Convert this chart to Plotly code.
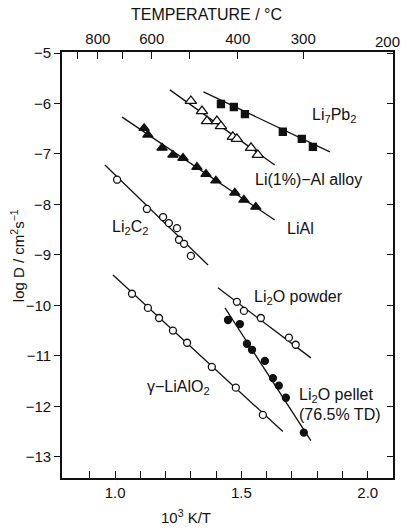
import plotly.graph_objects as go

# ---- data (10^3 K/T, log D) ----
li7pb2_x = [1.419, 1.470, 1.514, 1.664, 1.739, 1.783]
li7pb2_y = [-6.01, -6.07, -6.21, -6.56, -6.70, -6.86]
li7pb2_fit_x = [1.35, 1.85]
li7pb2_fit_y = [-5.77, -6.96]

lial1_x = [1.300, 1.344, 1.364, 1.403, 1.419, 1.466, 1.482, 1.538, 1.565]
lial1_y = [-5.95, -6.15, -6.35, -6.35, -6.45, -6.66, -6.70, -6.88, -7.02]
lial1_fit_x = [1.217, 1.632]
lial1_fit_y = [-5.73, -7.22]

lial_x = [1.115, 1.130, 1.186, 1.229, 1.269, 1.324, 1.360, 1.399, 1.474, 1.510, 1.557]
lial_y = [-6.49, -6.62, -6.88, -7.02, -7.08, -7.26, -7.40, -7.53, -7.77, -7.91, -8.05]
lial_fit_x = [1.028, 1.632]
lial_fit_y = [-6.27, -8.31]

li2c2_x = [1.008, 1.126, 1.190, 1.213, 1.245, 1.253, 1.273, 1.300]
li2c2_y = [-7.51, -8.09, -8.25, -8.37, -8.47, -8.70, -8.78, -9.02]
li2c2_fit_x = [0.960, 1.368]
li2c2_fit_y = [-7.22, -9.20]

lialo2_x = [1.067, 1.130, 1.174, 1.229, 1.285, 1.383, 1.478, 1.585]
lialo2_y = [-9.77, -10.05, -10.25, -10.50, -10.74, -11.22, -11.63, -12.17]
lialo2_fit_x = [0.992, 1.664]
lialo2_fit_y = [-9.40, -12.50]

li2o_pow_x = [1.482, 1.510, 1.577, 1.688, 1.715]
li2o_pow_y = [-9.93, -10.11, -10.25, -10.64, -10.78]
li2o_pow_fit_x = [1.407, 1.775]
li2o_pow_fit_y = [-9.65, -11.04]

li2o_pel_x = [1.447, 1.494, 1.522, 1.542, 1.593, 1.625, 1.648, 1.676, 1.747]
li2o_pel_y = [-10.29, -10.37, -10.76, -10.88, -11.10, -11.44, -11.59, -11.83, -12.52]
li2o_pel_fit_x = [1.435, 1.775]
li2o_pel_fit_y = [-10.05, -12.68]

bottom_major = [1.0, 1.5, 2.0]
bottom_minor = [0.9, 1.0, 1.1, 1.2, 1.3, 1.4, 1.5, 1.6, 1.7, 1.8, 1.9, 2.0]
temp_labeled_c = [800, 600, 400, 300]
temp_unlabeled_c = [900, 700, 500]
y_ticks = [-13, -12, -11, -10, -9, -8, -7, -6, -5]

FONT = "Liberation Sans"
INK = "#111111"

fig = go.Figure()

def fit(x, y):
    fig.add_trace(go.Scatter(x=x, y=y, mode="lines", line=dict(color=INK, width=1.3),
                             showlegend=False, hoverinfo="skip"))

def pts(x, y, symbol, size, fill):
    fig.add_trace(go.Scatter(x=x, y=y, mode="markers", showlegend=False,
                             marker=dict(symbol=symbol, size=size, color=fill,
                                         line=dict(color=INK, width=1.3))))

fit(li7pb2_fit_x, li7pb2_fit_y); pts(li7pb2_x, li7pb2_y, "square", 7, INK)
fit(lial1_fit_x, lial1_fit_y); pts(lial1_x, lial1_y, "triangle-up", 10, "white")
fit(lial_fit_x, lial_fit_y); pts(lial_x, lial_y, "triangle-up", 9, INK)
fit(li2c2_fit_x, li2c2_fit_y); pts(li2c2_x, li2c2_y, "circle", 7, "white")
fit(lialo2_fit_x, lialo2_fit_y); pts(lialo2_x, lialo2_y, "circle", 7, "white")
fit(li2o_pow_fit_x, li2o_pow_fit_y); pts(li2o_pow_x, li2o_pow_y, "circle", 7, "white")
fit(li2o_pel_fit_x, li2o_pel_fit_y); pts(li2o_pel_x, li2o_pel_y, "circle", 7, INK)

# invisible traces to activate top/right axes
fig.add_trace(go.Scatter(x=[1.5], y=[-9], xaxis="x2", yaxis="y2", mode="markers",
                         marker=dict(opacity=0), showlegend=False, hoverinfo="skip"))
fig.add_trace(go.Scatter(x=[1.5], y=[-9], xaxis="x3", yaxis="y2", mode="markers",
                         marker=dict(opacity=0), showlegend=False, hoverinfo="skip"))

LBL = 16
labels = [
    (1.771, -6.23, "Li<sub>7</sub>Pb<sub>2</sub>"),
    (1.545, -7.51, "Li(1%)−Al alloy"),
    (1.672, -8.47, "LiAl"),
    (0.980, -8.45, "Li<sub>2</sub>C<sub>2</sub>"),
    (1.542, -9.85, "Li<sub>2</sub>O powder"),
    (1.719, -11.79, "Li<sub>2</sub>O pellet"),
    (1.719, -12.17, "(76.5% TD)"),
    (1.119, -11.63, "γ−LiAlO<sub>2</sub>"),
]
for x, y, t in labels:
    fig.add_annotation(x=x, y=y, text=t, showarrow=False, xanchor="left", yanchor="middle",
                       font=dict(family=FONT, size=LBL, color=INK))

# axis titles
fig.add_annotation(xref="paper", yref="paper", x=0.375, y=-0.0915, text="10<sup>3</sup> K/T",
                   showarrow=False, xanchor="center", yanchor="middle",
                   font=dict(family=FONT, size=15, color=INK))
fig.add_annotation(xref="paper", yref="paper", x=-0.136, y=0.523,
                   text="log D / cm<sup>2</sup>s<sup>−1</sup>", textangle=-90,
                   showarrow=False, xanchor="center", yanchor="middle",
                   font=dict(family=FONT, size=15, color=INK))
fig.add_annotation(xref="paper", yref="paper", x=0.438, y=1.087, text="TEMPERATURE / °C",
                   showarrow=False, xanchor="center", yanchor="middle",
                   font=dict(family=FONT, size=16, color=INK))
fig.add_annotation(xref="paper", yref="paper", x=0.982, y=1.0235, text="200",
                   showarrow=False, xanchor="center", yanchor="middle",
                   font=dict(family=FONT, size=15, color=INK))

XR = [0.79, 2.10]
YR = [-13.42, -4.98]
axis_font = dict(family=FONT, size=15, color=INK)
common = dict(showline=True, linecolor=INK, linewidth=1.6, showgrid=False, zeroline=False,
              tickwidth=1.3, tickcolor=INK)

fig.update_layout(
    width=401, height=529,
    margin=dict(l=62, r=8, t=52, b=51),
    paper_bgcolor="white", plot_bgcolor="white",
    showlegend=False,
    xaxis=dict(range=XR, tickmode="array", tickvals=bottom_major,
               ticktext=[f"{v:.1f}" for v in bottom_major],
               ticks="inside", ticklen=7, tickfont=axis_font,
               minor=dict(tickmode="array", tickvals=bottom_minor, ticks="inside",
                          ticklen=7, tickwidth=1.3, tickcolor=INK, showgrid=False),
               **common),
    xaxis2=dict(range=XR, overlaying="x", side="top", anchor="y", tickmode="array",
                tickvals=[1000.0 / (t + 273.15) for t in temp_labeled_c],
                ticktext=[str(t) for t in temp_labeled_c],
                ticks="inside", ticklen=7, tickfont=axis_font, **common),
    xaxis3=dict(range=XR, overlaying="x", side="top", anchor="y", tickmode="array",
                tickvals=[1000.0 / (t + 273.15) for t in temp_unlabeled_c],
                showticklabels=False, ticks="inside", ticklen=7, **common),
    yaxis=dict(range=YR, tickmode="array", tickvals=y_ticks,
               ticks="outside", ticklen=6, tickfont=axis_font, **common),
    yaxis2=dict(range=YR, overlaying="y", side="right", anchor="x", tickmode="array",
                tickvals=y_ticks, showticklabels=False,
                ticks="inside", ticklen=6, **common),
)

fig.write_html("out.html")
